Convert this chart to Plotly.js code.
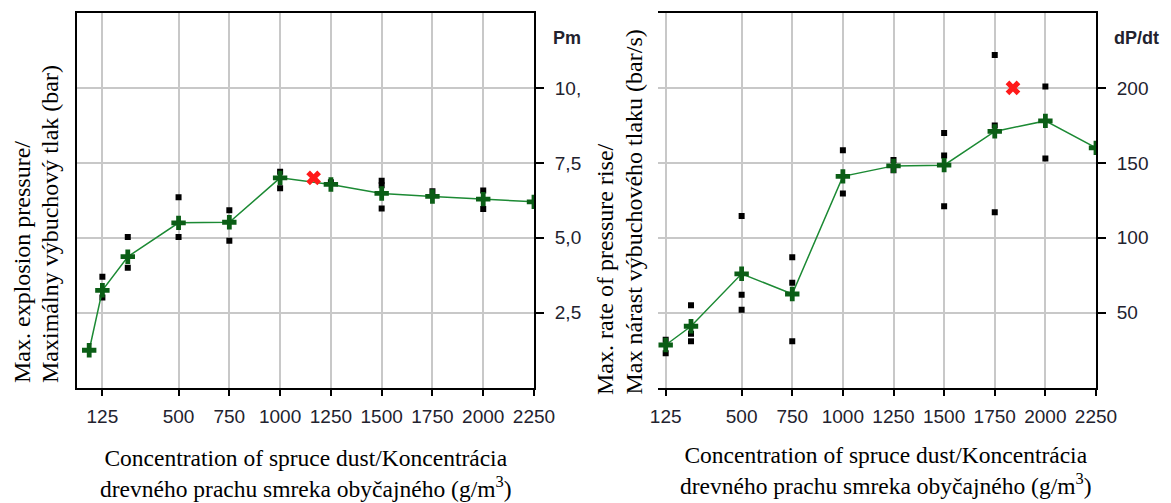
<!DOCTYPE html>
<html>
<head>
<meta charset="utf-8">
<script src="https://cdn.plot.ly/plotly-3.0.1.min.js"></script>
<style>html,body{margin:0;padding:0;background:#fff;}#chart{width:1171px;height:503px;}</style>
</head>
<body>
<div id="chart"></div>
<script>
// ---- Data: left chart (Pmax, bar) ----
const pmaxConc = [60, 125, 250, 500, 750, 1000, 1250, 1500, 1750, 2000, 2250];
const pmaxMean = [1.25, 3.25, 4.37, 5.5, 5.52, 7.0, 6.78, 6.48, 6.38, 6.29, 6.2];
const pmaxMeasConc = [125, 125, 250, 250, 500, 500, 750, 750, 1000, 1000, 1250, 1500, 1500, 1500, 1750, 2000, 2000];
const pmaxMeasVal = [3.7, 3.01, 5.03, 4.0, 6.35, 5.03, 5.92, 4.9, 7.2, 6.65, 6.85, 6.9, 6.75, 5.98, 6.55, 6.58, 5.96];
const pmaxMaxConc = [1165];
const pmaxMaxVal = [7.0];

// ---- Data: right chart (dP/dt, bar/s) ----
const dpdtConc = [125, 250, 500, 750, 1000, 1250, 1500, 1750, 2000, 2250];
const dpdtMean = [28.5, 41, 76, 62.5, 141, 148, 148.5, 171, 178, 160];
const dpdtMeasConc = [125, 125, 250, 250, 250, 500, 500, 500, 750, 750, 750, 1000, 1000, 1250, 1250, 1500, 1500, 1500, 1750, 1750, 1750, 2000, 2000];
const dpdtMeasVal = [32, 23, 55, 36, 31, 114.5, 62, 52, 87, 70, 31, 158.5, 129.5, 152, 145, 170, 155, 121, 222, 175, 117, 201, 153];
const dpdtMaxConc = [1840];
const dpdtMaxVal = [200];

// ---- Tick labels ----
const xTickVals = [125, 500, 750, 1000, 1250, 1500, 1750, 2000, 2250];
const xTickText = ['125', '500', '750', '1000', '1250', '1500', '1750', '2000', '2250'];
const pmaxTickVals = [2.5, 5, 7.5, 10];
const pmaxTickText = ['2,5', '5,0', '7,5', '10,'];
const dpdtTickVals = [50, 100, 150, 200];
const dpdtTickText = ['50', '100', '150', '200'];

const W = 1171, H = 503;
const px = v => v / W;
const py = v => 1 - v / H;

const sqMarker = {symbol: 'square', size: 6, color: '#000'};
const lineStyle = {color: '#1c8a34', width: 1.5};
const crossMarker = {symbol: 'cross', size: 12, color: '#0b5e16', line: {width: 0}};
const redMarker = {symbol: 'x', size: 13, color: '#ff1a1a', line: {width: 0}};

const traces = [
  {x: pmaxMeasConc, y: pmaxMeasVal, xaxis: 'x', yaxis: 'y', mode: 'markers', marker: sqMarker, type: 'scatter', hoverinfo: 'skip'},
  {x: pmaxConc, y: pmaxMean, xaxis: 'x', yaxis: 'y', mode: 'lines+markers', line: lineStyle, marker: crossMarker, type: 'scatter'},
  {x: pmaxMaxConc, y: pmaxMaxVal, xaxis: 'x', yaxis: 'y', mode: 'markers', marker: redMarker, type: 'scatter'},
  {x: dpdtMeasConc, y: dpdtMeasVal, xaxis: 'x2', yaxis: 'y2', mode: 'markers', marker: sqMarker, type: 'scatter', hoverinfo: 'skip'},
  {x: dpdtConc, y: dpdtMean, xaxis: 'x2', yaxis: 'y2', mode: 'lines+markers', line: lineStyle, marker: crossMarker, type: 'scatter'},
  {x: dpdtMaxConc, y: dpdtMaxVal, xaxis: 'x2', yaxis: 'y2', mode: 'markers', marker: redMarker, type: 'scatter'}
];

const tickFont = {family: 'Liberation Sans, Arial, sans-serif', size: 19, color: '#22222e'};
const gridCol = '#c8c8c8';

function xAx(domain, range, anchor) {
  return {
    domain: domain, range: range, anchor: anchor,
    tickmode: 'array', tickvals: xTickVals, ticktext: xTickText,
    showgrid: true, gridcolor: gridCol, gridwidth: 2,
    showline: true, linecolor: '#000', linewidth: 2, mirror: true,
    ticks: 'outside', ticklen: 6, tickwidth: 2, tickcolor: '#000',
    ticklabelstandoff: 4,
    zeroline: false, tickfont: tickFont, fixedrange: true
  };
}
function yAx(domain, range, anchor, vals, text, mirror) {
  return {
    domain: domain, range: range, anchor: anchor, side: 'right',
    tickmode: 'array', tickvals: vals, ticktext: text,
    showgrid: true, gridcolor: gridCol, gridwidth: 2,
    showline: true, linecolor: '#000', linewidth: 2, mirror: mirror,
    ticks: 'outside', ticklen: 8, tickwidth: 2, tickcolor: '#000',
    ticklabelstandoff: 7,
    zeroline: false, tickfont: tickFont, fixedrange: true
  };
}

const yDom = [py(387.7), py(13)];
const serif = {family: 'Liberation Serif, Times New Roman, serif', size: 24, color: '#000'};
const serifX = {family: 'Liberation Serif, Times New Roman, serif', size: 23.5, color: '#000'};
const boldSans = {family: 'Liberation Sans, Arial, sans-serif', size: 18, color: '#22222e', weight: 'bold'};

const xTitle = 'Concentration of spruce dust/Koncentrácia<br>drevného prachu smreka obyčajného (g/m<sup>3</sup>)';

const annotations = [
  {xref: 'paper', yref: 'paper', x: px(22), y: py(385), xanchor: 'center', yanchor: 'bottom', textangle: -90, text: 'Max. explosion pressure/', showarrow: false, font: serif},
  {xref: 'paper', yref: 'paper', x: px(50), y: py(385), xanchor: 'center', yanchor: 'bottom', textangle: -90, text: 'Maximálny výbuchový tlak (bar)', showarrow: false, font: serif},
  {xref: 'paper', yref: 'paper', x: px(605), y: py(397), xanchor: 'center', yanchor: 'bottom', textangle: -90, text: 'Max. rate of pressure rise/', showarrow: false, font: serif},
  {xref: 'paper', yref: 'paper', x: px(633), y: py(397), xanchor: 'center', yanchor: 'bottom', textangle: -90, text: 'Max nárast výbuchového tlaku (bar/s)', showarrow: false, font: serif},
  {xref: 'paper', yref: 'paper', x: px(306), y: py(473), xanchor: 'center', yanchor: 'middle', align: 'center', text: xTitle, showarrow: false, font: serifX},
  {xref: 'paper', yref: 'paper', x: px(886), y: py(470), xanchor: 'center', yanchor: 'middle', align: 'center', text: xTitle, showarrow: false, font: serifX},
  {xref: 'paper', yref: 'paper', x: px(551), y: py(38), xanchor: 'left', yanchor: 'middle', text: 'Pm', showarrow: false, font: boldSans},
  {xref: 'paper', yref: 'paper', x: px(1112), y: py(38), xanchor: 'left', yanchor: 'middle', text: 'dP/dt', showarrow: false, font: boldSans}
];

const layout = {
  width: W, height: H,
  margin: {l: 0, r: 0, t: 0, b: 0},
  paper_bgcolor: '#fff', plot_bgcolor: '#fff',
  showlegend: false,
  xaxis: xAx([px(77), px(534)], [0, 2250], 'y'),
  yaxis: yAx(yDom, [0, 12.5], 'x', pmaxTickVals, pmaxTickText, true),
  xaxis2: xAx([px(658), px(1096)], [87, 2250], 'y2'),
  yaxis2: yAx(yDom, [0, 250], 'x2', dpdtTickVals, dpdtTickText, false),
  annotations: annotations
};

Plotly.newPlot('chart', traces, layout, {displayModeBar: false, staticPlot: true});
</script>
</body>
</html>
